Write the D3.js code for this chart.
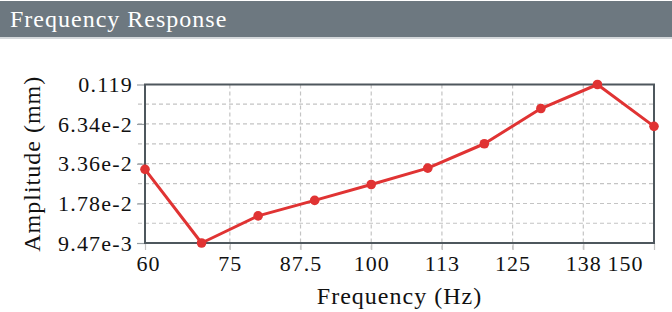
<!DOCTYPE html>
<html>
<head>
<meta charset="utf-8">
<script src="https://cdn.jsdelivr.net/npm/d3@7"></script>
<style>
  html, body { margin: 0; padding: 0; background: #ffffff; }
  svg { display: block; }
  text { font-family: "Liberation Serif", "Times New Roman", serif; }
</style>
</head>
<body>
<svg id="chart" width="672" height="312"></svg>
<script>
// ---- data ----
const chartTitle = "Frequency Response";
const xAxisTitle = "Frequency (Hz)";
const yAxisTitle = "Amplitude (mm)";
const frequencies = [60, 70, 80, 90, 100, 110, 120, 130, 140, 150];
const amplitudes = [0.0307, 0.00947, 0.0146, 0.0187, 0.0241, 0.0313, 0.0462, 0.0811, 0.119, 0.0610];
const xTickValues = [60, 75, 87.5, 100, 112.5, 125, 137.5, 150];
const xTickLabels = ["60", "75", "87.5", "100", "113", "125", "138", "150"];
const yTickValues = [0.00947, 0.0178, 0.0336, 0.0634, 0.119];
const yTickLabels = ["9.47e-3", "1.78e-2", "3.36e-2", "6.34e-2", "0.119"];

// ---- layout ----
const W = 672, H = 312;
const plot = { left: 145, right: 654, top: 84.5, bottom: 243 };
const svg = d3.select("#chart");

// title bar
svg.append("rect").attr("x", 0).attr("y", 1).attr("width", W).attr("height", 36).attr("fill", "#6d7880");
svg.append("rect").attr("x", 0).attr("y", 37).attr("width", W).attr("height", 2).attr("fill", "#d4d8db");
svg.append("text").attr("x", 10).attr("y", 27)
  .attr("fill", "#ffffff").attr("font-size", 24).attr("letter-spacing", 1)
  .text(chartTitle);

// scales
const x = d3.scaleLinear().domain([d3.min(frequencies), d3.max(frequencies)]).range([plot.left, plot.right]);
const y = d3.scaleLog().domain([d3.min(amplitudes), d3.max(amplitudes)]).range([plot.bottom, plot.top]);

// minor y levels (geometric midpoints between labelled ticks)
const yMinor = d3.pairs(yTickValues).map(([a, b]) => Math.sqrt(a * b));

const grid = svg.append("g");
// horizontal grid lines
[...yTickValues.slice(1, -1), ...yMinor].forEach(v => {
  grid.append("line")
    .attr("x1", plot.left - 7).attr("x2", plot.right)
    .attr("y1", y(v)).attr("y2", y(v))
    .attr("stroke", "#c4c4c4").attr("stroke-width", 1.2).attr("stroke-dasharray", "4,3");
});
// vertical grid lines
xTickValues.slice(1, -1).forEach(v => {
  grid.append("line")
    .attr("x1", x(v)).attr("x2", x(v))
    .attr("y1", plot.top).attr("y2", plot.bottom + 7)
    .attr("stroke", "#c4c4c4").attr("stroke-width", 1.2).attr("stroke-dasharray", "4,3");
});

// y axis (ticks + labels)
const yAxis = d3.axisLeft(y).tickValues(yTickValues)
  .tickFormat((d, i) => yTickLabels[i]).tickSize(8).tickPadding(4);
const gy = svg.append("g").attr("transform", `translate(${plot.left},0)`).call(yAxis);
gy.select(".domain").remove();
gy.selectAll(".tick line").attr("stroke", "#9aa0a4").attr("stroke-width", 1.2);
gy.selectAll(".tick text").attr("font-family", "Liberation Serif, serif")
  .attr("font-size", 22).attr("letter-spacing", 1.2).attr("fill", "#111").attr("dy", "0.33em");

// x axis
const xAxis = d3.axisBottom(x).tickValues(xTickValues)
  .tickFormat((d, i) => xTickLabels[i]).tickSize(7).tickPadding(5);
const gx = svg.append("g").attr("transform", `translate(0,${plot.bottom})`).call(xAxis);
gx.select(".domain").remove();
gx.selectAll(".tick line").attr("stroke", "#c4c4c4").attr("stroke-width", 1.2);
gx.selectAll(".tick text").attr("font-family", "Liberation Serif, serif")
  .attr("font-size", 22).attr("letter-spacing", 1).attr("fill", "#111")
  .attr("dx", (d, i) => i === 0 ? 3 : (i === xTickValues.length - 1 ? -29 : 0));

// plot frame
svg.append("rect")
  .attr("x", plot.left).attr("y", plot.top)
  .attr("width", plot.right - plot.left).attr("height", plot.bottom - plot.top)
  .attr("fill", "none").attr("stroke", "#4e575d").attr("stroke-width", 2);

// axis titles
svg.append("text")
  .attr("x", (plot.left + plot.right) / 2 + 0).attr("y", 304)
  .attr("text-anchor", "middle").attr("font-size", 24).attr("letter-spacing", 1).attr("fill", "#111")
  .text(xAxisTitle);
svg.append("text")
  .attr("transform", `translate(40,${(plot.top + plot.bottom) / 2}) rotate(-90)`)
  .attr("text-anchor", "middle").attr("font-size", 24).attr("letter-spacing", 1).attr("fill", "#111")
  .text(yAxisTitle);

// series
const pts = frequencies.map((f, i) => [f, amplitudes[i]]);
const line = d3.line().x(d => x(d[0])).y(d => y(d[1]));
svg.append("path").datum(pts).attr("d", line)
  .attr("fill", "none").attr("stroke", "#e03333").attr("stroke-width", 3).attr("stroke-linejoin", "round");
svg.selectAll("circle.pt").data(pts).enter().append("circle").attr("class", "pt")
  .attr("cx", d => x(d[0])).attr("cy", d => y(d[1])).attr("r", 4.8)
  .attr("fill", "#e03333");
</script>
</body>
</html>
